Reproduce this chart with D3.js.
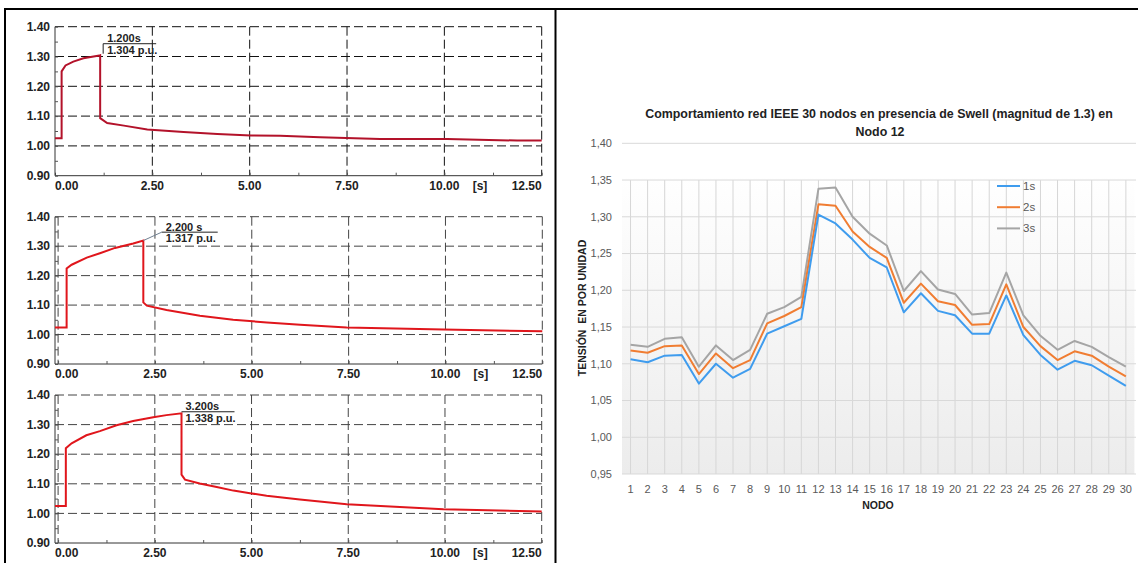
<!DOCTYPE html>
<html>
<head>
<meta charset="utf-8">
<script src="https://cdn.jsdelivr.net/npm/d3@7"></script>
<style>
  body { margin: 0; background: #fff; }
  svg { display: block; }
</style>
</head>
<body>
<div id="chart"></div>
<script>
//
// Data
//

// left panel: three swell simulations (time in s, voltage in p.u.)
var swell1T = [0, 0.17, 0.17, 0.27, 0.47, 0.73, 1.14, 1.16, 1.16, 1.34, 1.77, 2.37, 3.3, 4.17, 5.03, 5.78, 6.81, 8.35, 10.07, 11.87, 12.5];
var swell1V = [1.026, 1.026, 1.25, 1.27, 1.283, 1.294, 1.303, 1.304, 1.093, 1.077, 1.068, 1.055, 1.047, 1.040, 1.035, 1.034, 1.029, 1.023, 1.023, 1.018, 1.018];

var swell2T = [-0.08, 0.22, 0.22, 0.35, 0.74, 1.08, 1.47, 1.94, 2.2, 2.2, 2.29, 2.8, 3.66, 4.52, 5.39, 6.25, 7.45, 9.95, 12.5];
var swell2V = [1.024, 1.024, 1.224, 1.237, 1.261, 1.276, 1.294, 1.309, 1.319, 1.109, 1.098, 1.083, 1.064, 1.050, 1.041, 1.033, 1.024, 1.017, 1.011];

var swell3T = [-0.08, 0.2, 0.2, 0.35, 0.73, 1.08, 1.51, 1.94, 2.46, 2.8, 3.19, 3.19, 3.28, 3.66, 4.1, 4.53, 4.96, 5.39, 6.25, 7.46, 9.96, 12.5];
var swell3V = [1.025, 1.025, 1.220, 1.237, 1.264, 1.278, 1.298, 1.312, 1.325, 1.332, 1.338, 1.131, 1.114, 1.101, 1.089, 1.077, 1.068, 1.060, 1.047, 1.031, 1.014, 1.006];

var peakLabels = [["1.200s", "1.304 p.u."], ["2.200 s", "1.317 p.u."], ["3.200s", "1.338 p.u."]];
var peakPoints = [[1.16, 1.304], [2.2, 1.319], [3.19, 1.338]];

var timeTicks = [0, 2.5, 5, 7.5, 10, 12.5];
var voltTicks = [0.9, 1.0, 1.1, 1.2, 1.3, 1.4];

// right panel: IEEE 30 bus voltages
var nodes = d3.range(1, 31);
var v1s = [1.106, 1.102, 1.111, 1.112, 1.073, 1.100, 1.081, 1.093, 1.141, 1.151, 1.161, 1.303, 1.291, 1.269, 1.244, 1.231, 1.170, 1.196, 1.172, 1.166, 1.141, 1.141, 1.193, 1.139, 1.112, 1.092, 1.104, 1.098, 1.084, 1.070];
var v2s = [1.118, 1.115, 1.124, 1.125, 1.086, 1.114, 1.094, 1.105, 1.155, 1.165, 1.177, 1.317, 1.315, 1.280, 1.259, 1.244, 1.183, 1.209, 1.185, 1.180, 1.153, 1.154, 1.208, 1.150, 1.124, 1.105, 1.117, 1.111, 1.096, 1.083];
var v3s = [1.126, 1.123, 1.134, 1.136, 1.096, 1.125, 1.105, 1.119, 1.168, 1.177, 1.191, 1.338, 1.340, 1.300, 1.277, 1.261, 1.199, 1.226, 1.201, 1.195, 1.167, 1.169, 1.224, 1.166, 1.138, 1.119, 1.131, 1.123, 1.109, 1.096];
var seriesNames = ["1s", "2s", "3s"];
var seriesColors = ["#3f9cee", "#f07d32", "#a5a5a5"];
var nodeTicks = [0.95, 1.00, 1.05, 1.10, 1.15, 1.20, 1.25, 1.30, 1.35, 1.40];

var W = 1138, H = 563;

var svg = d3.select("#chart").append("svg")
	.attr("width", W)
	.attr("height", H);

//
// frame around the left panel
//
svg.append("line").attr("x1", 4).attr("x2", W).attr("y1", 9).attr("y2", 9)
	.style("stroke", "#000").style("stroke-width", 2);
svg.append("line").attr("x1", 5).attr("x2", 5).attr("y1", 9).attr("y2", H)
	.style("stroke", "#000").style("stroke-width", 2);
svg.append("line").attr("x1", 555.5).attr("x2", 555.5).attr("y1", 9).attr("y2", H)
	.style("stroke", "#000").style("stroke-width", 2);

//
// left panel plots
//
var plots = [
	{ t: swell1T, v: swell1V, x0: -0.0, xr: [55, 541.7], yr: [175.7, 26.7], grid0: false,
	  gridColor: "#111", traceColor: "#b3122a", lab: peakLabels[0], peak: peakPoints[0],
	  ann: { mode: "vert", dx: 3, dy: -11.6, len: 53 } },
	{ t: swell2T, v: swell2V, x0: -0.08, xr: [55, 542.3], yr: [364, 216.7], grid0: true,
	  gridColor: "#444", traceColor: "#e0161c", lab: peakLabels[1], peak: peakPoints[1],
	  ann: { mode: "diag", dx: 18.4, dy: -8.4, len: 56 } },
	{ t: swell3T, v: swell3V, x0: -0.08, xr: [55, 541.7], yr: [543, 395], grid0: true,
	  gridColor: "#444", traceColor: "#e0161c", lab: peakLabels[2], peak: peakPoints[2],
	  ann: { mode: "flat", dx: 0, dy: -1.6, len: 53 } }
];

plots.forEach(function(p) {
	var x = d3.scaleLinear().domain([p.x0, 12.5]).range(p.xr);
	var y = d3.scaleLinear().domain([0.9, 1.4]).range(p.yr);
	var g = svg.append("g");
	var left = p.xr[0], right = p.xr[1], top = p.yr[1], bottom = p.yr[0];

	// dashed grid
	g.selectAll(".hg").data(voltTicks.filter(function(d) { return d > 0.95; }))
		.enter().append("line")
		.attr("x1", left).attr("x2", right)
		.attr("y1", function(d) { return y(d); }).attr("y2", function(d) { return y(d); })
		.style("stroke", p.gridColor).style("stroke-width", 1)
		.style("stroke-dasharray", "9,4");
	g.selectAll(".vg").data(timeTicks.filter(function(d) { return d > 0 || p.grid0; }))
		.enter().append("line")
		.attr("x1", function(d) { return x(d); }).attr("x2", function(d) { return x(d); })
		.attr("y1", top).attr("y2", bottom)
		.style("stroke", p.gridColor).style("stroke-width", 1)
		.style("stroke-dasharray", "9,4");

	// axes
	var xAxis = d3.axisBottom(x).tickValues(d3.range(0, 12.51, 1.25)).tickSize(-3).tickFormat("");
	var yAxis = d3.axisLeft(y).tickValues(d3.range(0.9, 1.401, 0.05)).tickSize(-3).tickFormat("");
	var ax = g.append("g").attr("transform", "translate(0," + bottom + ")").call(xAxis);
	ax.select(".domain").attr("d", "M" + left + ",0H" + right).style("stroke", "#333");
	ax.selectAll("line").style("stroke", "#555");
	var ay = g.append("g").attr("transform", "translate(" + left + ",0)").call(yAxis);
	ay.select(".domain").attr("d", "M0," + top + "V" + bottom).style("stroke", "#333");
	ay.selectAll("line").style("stroke", "#555");

	// tick labels
	g.selectAll(".yl").data(voltTicks).enter().append("text")
		.attr("x", left - 5).attr("y", function(d) { return y(d); })
		.attr("dy", "0.35em")
		.style("text-anchor", "end")
		.style("font", "bold 12px 'Liberation Sans', Arial, sans-serif")
		.style("fill", "#222")
		.text(function(d) { return d3.format(".2f")(d); });
	g.selectAll(".xl").data(timeTicks).enter().append("text")
		.attr("x", function(d) { return d === 0 ? left : x(d); })
		.attr("y", bottom + 14)
		.style("text-anchor", function(d, i) { return i === 0 ? "start" : (i === timeTicks.length - 1 ? "end" : "middle"); })
		.style("font", "bold 12px 'Liberation Sans', Arial, sans-serif")
		.style("fill", "#222")
		.text(function(d) { return d3.format(".2f")(d); });
	g.append("text")
		.attr("x", x(11.25) - 13).attr("y", bottom + 14)
		.style("text-anchor", "middle")
		.style("font", "bold 12px 'Liberation Sans', Arial, sans-serif")
		.style("fill", "#222")
		.text("[s]");

	// trace
	var pts = p.t.map(function(t, i) { return [t, p.v[i]]; });
	g.append("path")
		.datum(pts)
		.attr("d", d3.line().x(function(d) { return x(d[0]); }).y(function(d) { return y(d[1]); }))
		.style("fill", "none")
		.style("stroke", p.traceColor)
		.style("stroke-width", 2);

	// peak annotation
	var px = x(p.peak[0]), py = y(p.peak[1]);
	var ax0 = px + p.ann.dx, ay0 = py + p.ann.dy;
	if (p.ann.mode === "vert") {
		g.append("line").attr("x1", ax0).attr("x2", ax0).attr("y1", ay0).attr("y2", ay0 + 10)
			.style("stroke", "#222").style("stroke-width", 1);
	} else if (p.ann.mode === "diag") {
		g.append("line").attr("x1", px).attr("y1", py).attr("x2", ax0).attr("y2", ay0)
			.style("stroke", "#6f7f90").style("stroke-width", 1);
	}
	g.append("line").attr("x1", ax0).attr("x2", ax0 + p.ann.len).attr("y1", ay0).attr("y2", ay0)
		.style("stroke", "#222").style("stroke-width", 1);
	g.append("text").attr("x", ax0 + 4).attr("y", ay0 - 1.5)
		.style("font", "bold 11px 'Liberation Sans', Arial, sans-serif").style("fill", "#222")
		.text(p.lab[0]);
	g.append("text").attr("x", ax0 + 4).attr("y", ay0 + 10)
		.style("font", "bold 11px 'Liberation Sans', Arial, sans-serif").style("fill", "#222")
		.text(p.lab[1]);
});

//
// right panel: line chart per node
//
var rx = d3.scalePoint().domain(nodes).range([622, 1134.4]).padding(0.5);
var ry = d3.scaleLinear().domain([0.95, 1.40]).range([474, 143.3]);
var rg = svg.append("g");

var defs = svg.append("defs");
var grad = defs.append("linearGradient").attr("id", "bg")
	.attr("x1", 0).attr("x2", 0).attr("y1", 0).attr("y2", 1);
grad.append("stop").attr("offset", "0%").attr("stop-color", "#ffffff");
grad.append("stop").attr("offset", "100%").attr("stop-color", "#ececec");

rg.append("rect")
	.attr("x", 622).attr("y", ry(1.355))
	.attr("width", 1134.4 - 622).attr("height", ry(0.95) - ry(1.355))
	.style("fill", "url(#bg)");

rg.selectAll(".vgrid").data(nodes).enter().append("line")
	.attr("x1", function(d) { return rx(d); }).attr("x2", function(d) { return rx(d); })
	.attr("y1", ry(1.35)).attr("y2", ry(0.95))
	.style("stroke", "#d6d6d6").style("stroke-width", 1);
rg.selectAll(".hgrid").data(nodeTicks).enter().append("line")
	.attr("x1", 622).attr("x2", 1136)
	.attr("y1", function(d) { return ry(d); }).attr("y2", function(d) { return ry(d); })
	.style("stroke", "#d9d9d9").style("stroke-width", 1);

rg.selectAll(".ytl").data(nodeTicks).enter().append("text")
	.attr("x", 612).attr("y", function(d) { return ry(d); })
	.attr("dy", "0.35em")
	.style("text-anchor", "end")
	.style("font", "11px 'Liberation Sans', Arial, sans-serif")
	.style("fill", "#595959")
	.text(function(d) { return d3.format(".2f")(d).replace(".", ","); });
rg.selectAll(".xtl").data(nodes).enter().append("text")
	.attr("x", function(d) { return rx(d); }).attr("y", 493)
	.style("text-anchor", "middle")
	.style("font", "11px 'Liberation Sans', Arial, sans-serif")
	.style("fill", "#595959")
	.text(function(d) { return d; });

var allSeries = [v1s, v2s, v3s];
var rline = d3.line().x(function(d, i) { return rx(nodes[i]); }).y(function(d) { return ry(d); });
[2, 1, 0].forEach(function(k) {
	rg.append("path")
		.datum(allSeries[k])
		.attr("d", rline)
		.style("fill", "none")
		.style("stroke", seriesColors[k])
		.style("stroke-width", 2)
		.style("stroke-linejoin", "round");
});

// legend
var legend = rg.selectAll(".legend").data(seriesNames).enter().append("g")
	.attr("transform", function(d, i) { return "translate(997," + (186 + i * 21.2) + ")"; });
legend.append("line").attr("x1", 0).attr("x2", 23).attr("y1", 0).attr("y2", 0)
	.style("stroke", function(d, i) { return seriesColors[i]; }).style("stroke-width", 2);
legend.append("text").attr("x", 26).attr("dy", "0.35em")
	.style("font", "11.5px 'Liberation Sans', Arial, sans-serif")
	.style("fill", "#595959")
	.text(function(d) { return d; });

// titles
rg.append("text").attr("x", 879).attr("y", 118)
	.style("text-anchor", "middle")
	.style("font", "bold 12.4px 'Liberation Sans', Arial, sans-serif")
	.style("fill", "#222")
	.text("Comportamiento red IEEE 30 nodos en presencia de Swell (magnitud de 1.3) en");
rg.append("text").attr("x", 880).attr("y", 135.5)
	.style("text-anchor", "middle")
	.style("font", "bold 12.4px 'Liberation Sans', Arial, sans-serif")
	.style("fill", "#222")
	.text("Nodo 12");
rg.append("text").attr("x", 878).attr("y", 509)
	.style("text-anchor", "middle")
	.style("font", "bold 10.5px 'Liberation Sans', Arial, sans-serif")
	.style("fill", "#222")
	.text("NODO");
rg.append("text")
	.attr("transform", "translate(586,308) rotate(-90)")
	.style("text-anchor", "middle")
	.style("font", "bold 10.5px 'Liberation Sans', Arial, sans-serif")
	.style("fill", "#222")
	.style("white-space", "pre")
	.text("TENSIÓN  EN POR UNIDAD");
</script>
</body>
</html>
